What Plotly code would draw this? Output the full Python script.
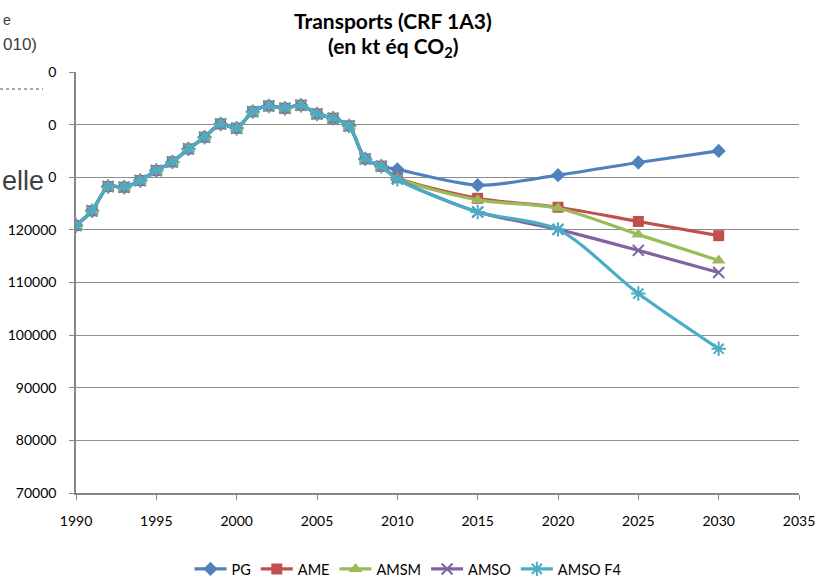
import plotly.graph_objects as go

# ---------------- data ----------------
hist_years = list(range(1990, 2010))
hist_values = [120830, 123620, 128230, 128110, 129370, 131270, 132920, 135390,
               137610, 140130, 139320, 142470, 143550, 143110, 143680, 142030,
               141210, 139750, 133490, 132100]
proj_years = [2010, 2015, 2020, 2025, 2030]
pg_proj = [131500, 128500, 130400, 132800, 135000]
ame_proj = [129900, 126000, 124300, 121600, 118900]
amsm_proj = [129800, 125700, 124100, 119100, 114200]
amso_proj = [129700, 123400, 120100, 116100, 111900]
amsof4_proj = [129600, 123400, 120100, 107900, 97400]

series_names = ["PG", "AME", "AMSM", "AMSO", "AMSO F4"]
series_proj = [pg_proj, ame_proj, amsm_proj, amso_proj, amsof4_proj]
x_ticks = [1990, 1995, 2000, 2005, 2010, 2015, 2020, 2025, 2030, 2035]
y_ticks = [70000, 80000, 90000, 100000, 110000, 120000, 130000, 140000, 150000]
# the top three labels are hidden by an overlapping object; only their last "0" shows
y_ticktext = ["70000", "80000", "90000", "100000", "110000", "120000", "0", "0", "0"]
title_lines = ["<b>Transports (CRF 1A3)</b>", "<b>(en kt éq CO<sub>2</sub>)</b>"]

# ---------------- styles ----------------
colors = ["#4F81BD", "#C0504D", "#9BBB59", "#8064A2", "#4BACC6"]
symbols = ["diamond", "square", "triangle-up", "x-thin-open", "asterisk-open"]
sizes = [11, 11, 12, 11, 12]

W, H = 819, 577
L, R, T, B = 76, 20, 72, 84
PW, PH = W - L - R, H - T - B


def px(x):  # reference pixel x -> paper
    return (x - L) / PW


def py(y):  # reference pixel y -> paper
    return (H - B - y) / PH


fig = go.Figure()
for name, proj, c, s, sz in zip(series_names, series_proj, colors, symbols, sizes):
    xs = hist_years + proj_years
    ys = hist_values + proj
    open_sym = s.endswith("open")
    fig.add_trace(go.Scatter(
        x=xs, y=ys, name=name, mode="lines+markers",
        line=dict(color=c, width=3.2, shape="spline", smoothing=0.8),
        marker=dict(symbol=s, size=sz, color=c,
                    line=dict(color=c, width=2 if open_sym else 0)),
    ))

FONT = "Lato, 'Open Sans', sans-serif"
fig.update_layout(
    width=W, height=H,
    margin=dict(l=L, r=R, t=T, b=B, autoexpand=False),
    paper_bgcolor="white", plot_bgcolor="white",
    font=dict(family=FONT, size=14, color="#000000"),
    xaxis=dict(
        range=[1990, 2035], tickvals=x_ticks, tickformat="d",
        showgrid=False, zeroline=False, automargin=False,
        showline=True, linecolor="#868686", linewidth=1.5,
        ticks="outside", ticklen=5, tickcolor="#868686",
        ticklabelstandoff=9,
    ),
    yaxis=dict(
        range=[70000, 150000], tickvals=y_ticks, ticktext=y_ticktext,
        showgrid=True, gridcolor="#8c8c8c", gridwidth=1, zeroline=False,
        automargin=False,
        showline=True, linecolor="#868686", linewidth=1.5,
        ticks="outside", ticklen=5, tickcolor="#868686",
        ticklabelstandoff=10,
    ),
    legend=dict(
        orientation="h", xref="container", x=408 / W, xanchor="center",
        yref="container", y=(H - 569) / H, yanchor="middle",
        font=dict(size=14.5), itemwidth=32, bgcolor="rgba(0,0,0,0)",
    ),
    showlegend=True,
)

# title as two lines
for txt, yc in zip(title_lines, [20, 47]):
    fig.add_annotation(text=txt, xref="paper", yref="paper", x=px(393), y=py(yc),
                       xanchor="center", yanchor="middle", showarrow=False,
                       font=dict(family=FONT, size=21, color="#000000"))

# overlapping fragment from an adjacent object (top-left)
fig.add_shape(type="line", xref="paper", yref="paper",
              x0=px(0), x1=px(43), y0=py(89), y1=py(89),
              line=dict(color="#555555", width=1, dash="dot"))
fig.add_annotation(text="e", xref="paper", yref="paper", x=px(1), y=py(20),
                   xanchor="left", yanchor="middle", showarrow=False,
                   font=dict(family="Liberation Sans", size=14, color="#404040"))
fig.add_annotation(text="010)", xref="paper", yref="paper", x=px(1), y=py(44),
                   xanchor="left", yanchor="middle", showarrow=False,
                   font=dict(family="Liberation Sans", size=17, color="#404040"))
fig.add_annotation(text="elle", xref="paper", yref="paper", x=px(0), y=py(181),
                   xanchor="left", yanchor="middle", showarrow=False,
                   font=dict(family="Liberation Sans", size=27, color="#404040"))

# remove the page's default body margin so the figure sits at (0, 0)
fig.write_html(
    "out.html",
    config={"displayModeBar": False},
    post_script="document.body.style.margin='0';document.body.style.overflow='hidden';",
)
